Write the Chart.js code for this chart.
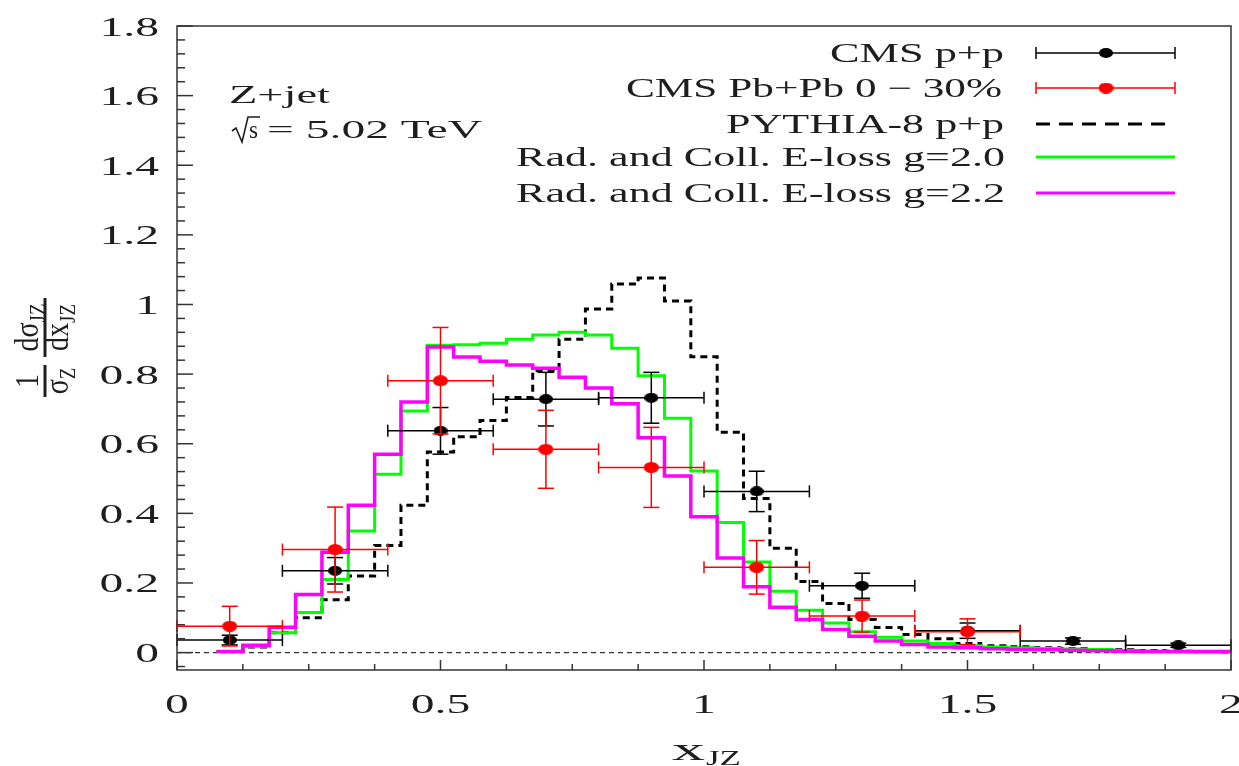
<!DOCTYPE html>
<html>
<head>
<meta charset="utf-8">
<script src="https://cdn.jsdelivr.net/npm/chart.js@4.4.1/dist/chart.umd.min.js"></script>
<style>
  html, body { margin: 0; padding: 0; background: #fff; }
  canvas { display: block; }
</style>
</head>
<body>
<canvas id="chart" width="1239" height="766"></canvas>
<script>
// bin edges shared by the three histograms (width 0.05)
const binEdges = [
  0.075, 0.125, 0.175, 0.225, 0.275, 0.325, 0.375, 0.425, 0.475, 0.525,
  0.575, 0.625, 0.675, 0.725, 0.775, 0.825, 0.875, 0.925, 0.975, 1.025,
  1.075, 1.125, 1.175, 1.225, 1.275, 1.325, 1.375, 1.425, 1.475, 1.525,
  1.575, 1.625, 1.675, 1.725, 1.775, 1.825, 1.875, 1.925, 1.975, 2.025
];

const pythiaPP = [
  0.003, 0.016, 0.057, 0.100, 0.152, 0.220, 0.308, 0.423, 0.576, 0.620,
  0.667, 0.733, 0.810, 0.900, 0.987, 1.059, 1.076, 1.010, 0.850, 0.633,
  0.443, 0.300, 0.204, 0.141, 0.095, 0.072, 0.052, 0.040, 0.026, 0.020,
  0.017, 0.014, 0.012, 0.009, 0.008, 0.006, 0.004, 0.003, 0.002
];

const eloss20 = [
  0.003, 0.018, 0.057, 0.115, 0.210, 0.349, 0.512, 0.694, 0.883, 0.884,
  0.889, 0.900, 0.912, 0.920, 0.912, 0.874, 0.795, 0.673, 0.522, 0.374,
  0.260, 0.176, 0.122, 0.085, 0.060, 0.044, 0.033, 0.026, 0.020, 0.016,
  0.014, 0.012, 0.010, 0.009, 0.006, 0.004, 0.003, 0.002, 0.002
];

const eloss22 = [
  0.003, 0.021, 0.073, 0.167, 0.288, 0.423, 0.570, 0.720, 0.878, 0.849,
  0.837, 0.826, 0.817, 0.791, 0.760, 0.715, 0.617, 0.507, 0.390, 0.272,
  0.189, 0.130, 0.095, 0.066, 0.047, 0.033, 0.023, 0.016, 0.014, 0.011,
  0.009, 0.008, 0.007, 0.005, 0.004, 0.003, 0.003, 0.003, 0.003
];

// CMS data points
const ppX    = [0.1, 0.3, 0.5, 0.7, 0.9, 1.1, 1.3, 1.5, 1.7, 1.9];
const ppY    = [0.036, 0.235, 0.637, 0.728, 0.732, 0.463, 0.192, 0.063, 0.033, 0.021];
const ppErr  = [0.014, 0.038, 0.067, 0.077, 0.073, 0.058, 0.036, 0.022, 0.009, 0.006];
const ppXErr = [0.1, 0.1, 0.1, 0.1, 0.1, 0.1, 0.1, 0.1, 0.1, 0.1];

const pbX    = [0.1, 0.3, 0.5, 0.7, 0.9, 1.1, 1.3, 1.5];
const pbY    = [0.076, 0.296, 0.781, 0.584, 0.532, 0.245, 0.105, 0.060];
const pbErr  = [0.057, 0.122, 0.153, 0.112, 0.115, 0.077, 0.046, 0.037];
const pbXErr = [0.1, 0.1, 0.1, 0.1, 0.1, 0.1, 0.1, 0.1];

const xTickVals   = [0, 0.5, 1, 1.5, 2];
const xTickLabels = ['0', '0.5', '1', '1.5', '2'];
const yTickVals   = [0, 0.2, 0.4, 0.6, 0.8, 1, 1.2, 1.4, 1.6, 1.8];
const yTickLabels = ['0', '0.2', '0.4', '0.6', '0.8', '1', '1.2', '1.4', '1.6', '1.8'];

const legendLabels = [
  'CMS p+p',
  'CMS Pb+Pb 0 \u2212 30%',
  'PYTHIA-8 p+p',
  'Rad. and Coll. E-loss g=2.0',
  'Rad. and Coll. E-loss g=2.2'
];

const ink = '#1e1e1e';
const frameColor = '#333333';
const serif = '"Liberation Serif", "Times New Roman", serif';

// the figure is stretched sideways, so markers are ellipses
function makeDot(color, w, h) {
  const c = document.createElement('canvas');
  c.width = w; c.height = h;
  const g = c.getContext('2d');
  g.fillStyle = color;
  g.beginPath();
  g.ellipse(w / 2, h / 2, w / 2, h / 2, 0, 0, Math.PI * 2);
  g.fill();
  return c;
}
const blackDot = makeDot('#000000', 14, 10);
const redDot = makeDot('#ff0000', 15, 11);

function histPoints(vals) {
  const pts = [];
  vals.forEach((v, i) => {
    pts.push({ x: binEdges[i], y: v }, { x: binEdges[i + 1], y: v });
  });
  return pts;
}

function line(ctx, x1, y1, x2, y2) {
  ctx.beginPath();
  ctx.moveTo(x1, y1);
  ctx.lineTo(x2, y2);
  ctx.stroke();
}

// text with horizontal stretch
function txt(ctx, s, x, y, size, align, sx) {
  ctx.save();
  ctx.font = size + 'px ' + serif;
  ctx.textAlign = align;
  ctx.textBaseline = 'alphabetic';
  ctx.fillStyle = ink;
  ctx.translate(x, y);
  ctx.scale(sx, 1);
  ctx.fillText(s, 0, 0);
  ctx.restore();
}

// text squeezed/stretched to fit between left and right
function fitTxt(ctx, s, left, right, y, size) {
  ctx.save();
  ctx.font = size + 'px ' + serif;
  const w = ctx.measureText(s).width;
  ctx.restore();
  txt(ctx, s, left, y, size, 'left', (right - left) / w);
}

function drawErrors(chart, ds) {
  const ctx = chart.ctx;
  const xs = chart.scales.x, ys = chart.scales.y;
  ctx.save();
  ctx.strokeStyle = ds.errColor;
  ctx.lineWidth = 1.5;
  ds.data.forEach((p, i) => {
    const px = xs.getPixelForValue(p.x);
    const py = ys.getPixelForValue(p.y);
    const xl = xs.getPixelForValue(p.x - ds.errX[i]);
    const xr = xs.getPixelForValue(p.x + ds.errX[i]);
    const yt = ys.getPixelForValue(p.y + ds.errY[i]);
    const yb = ys.getPixelForValue(p.y - ds.errY[i]);
    line(ctx, xl, py, xr, py);
    line(ctx, xl, py - 6, xl, py + 6);
    line(ctx, xr, py - 6, xr, py + 6);
    line(ctx, px, yt, px, yb);
    line(ctx, px - 8, yt, px + 8, yt);
    line(ctx, px - 8, yb, px + 8, yb);
  });
  ctx.restore();
}

function drawComposite(ctx, parts, cx, base) {
  let total = 0;
  parts.forEach(p => { ctx.font = p[1] + 'px ' + serif; p.w = ctx.measureText(p[0]).width; total += p.w; });
  let x = cx - total / 2;
  parts.forEach(p => {
    ctx.font = p[1] + 'px ' + serif;
    ctx.fillText(p[0], x, base + p[2]);
    x += p.w;
  });
  return total;
}

function drawYTitle(ctx) {
  ctx.save();
  ctx.translate(45, 348);
  ctx.scale(1.2, 1);
  ctx.rotate(-Math.PI / 2);
  ctx.fillStyle = ink;
  ctx.strokeStyle = ink;
  ctx.textAlign = 'left';
  ctx.textBaseline = 'alphabetic';
  // 1 / sigma_Z
  drawComposite(ctx, [['1', 28, 0]], -33, -6);
  drawComposite(ctx, [['\u03c3', 28, 0], ['Z', 19, 6]], -33, 19);
  ctx.lineWidth = 2.5;
  line(ctx, -49, 0, -17, 0);
  // d sigma_JZ / d x_JZ
  drawComposite(ctx, [['d\u03c3', 28, 0], ['JZ', 19, 6]], 20.5, -6);
  drawComposite(ctx, [['dx', 28, 0], ['JZ', 19, 6]], 20.5, 19);
  line(ctx, -9, 0, 50, 0);
  ctx.restore();
}

const overlay = {
  id: 'overlay',
  beforeDatasetDraw(chart, args) {
    const ds = chart.data.datasets[args.index];
    if (ds.errY) drawErrors(chart, ds);
  },
  afterDraw(chart) {
    const ctx = chart.ctx;
    const a = chart.chartArea;
    const xs = chart.scales.x, ys = chart.scales.y;

    // frame
    ctx.save();
    ctx.strokeStyle = frameColor;
    ctx.lineWidth = 1.5;
    ctx.strokeRect(a.left, a.top, a.right - a.left, a.bottom - a.top);

    // inward ticks on bottom and left axes
    for (let k = 0; k <= 16; k++) {
      const px = xs.getPixelForValue(k * 0.125);
      line(ctx, px, a.bottom, px, a.bottom - (k % 4 === 0 ? 10 : 6));
    }
    for (let k = -1; k <= 45; k++) {
      const py = ys.getPixelForValue(k * 0.04);
      line(ctx, a.left, py, a.left + (k % 5 === 0 ? 16 : 8), py);
    }
    ctx.restore();

    // tick labels
    yTickVals.forEach((v, i) => txt(ctx, yTickLabels[i], 159, ys.getPixelForValue(v) + 9.5, 28, 'right', 1.7));
    xTickVals.forEach((v, i) => txt(ctx, xTickLabels[i], xs.getPixelForValue(v), 713, 28, 'center', 1.7));

    // axis titles
    fitTxt(ctx, 'x', 672, 705, 760, 32);
    fitTxt(ctx, 'JZ', 706, 741, 765, 20);
    drawYTitle(ctx);

    // annotation
    fitTxt(ctx, 'Z+jet', 229, 330, 103, 25);
    ctx.save();
    ctx.strokeStyle = ink;
    ctx.lineWidth = 1.6;
    ctx.beginPath();
    ctx.moveTo(232, 131);
    ctx.lineTo(236, 128);
    ctx.lineTo(242, 142);
    ctx.lineTo(248, 117);
    ctx.lineTo(260, 117);
    ctx.stroke();
    ctx.restore();
    fitTxt(ctx, 's', 249, 258, 138, 25);
    fitTxt(ctx, '= 5.02 TeV', 267, 482, 138, 25);

    // legend
    const rows = [53, 88, 124, 157, 193];
    const lefts = [830, 626, 726, 516, 516];
    const rights = [1004, 1002, 1004, 1005, 1005];
    legendLabels.forEach((s, i) => fitTxt(ctx, s, lefts[i], rights[i], rows[i] + 9, 27));

    ctx.save();
    ctx.lineWidth = 1.5;
    [['#000000', blackDot], ['#ff0000', redDot]].forEach((m, i) => {
      const y = rows[i];
      ctx.strokeStyle = m[0];
      line(ctx, 1036, y, 1175, y);
      line(ctx, 1036, y - 6, 1036, y + 6);
      line(ctx, 1175, y - 6, 1175, y + 6);
      ctx.drawImage(m[1], 1106 - m[1].width / 2, y - m[1].height / 2);
    });
    ctx.strokeStyle = '#000000';
    ctx.lineWidth = 3;
    ctx.setLineDash([14, 9]);
    line(ctx, 1036, rows[2], 1172, rows[2]);
    ctx.setLineDash([]);
    ctx.strokeStyle = '#00ff00';
    line(ctx, 1036, rows[3], 1175, rows[3]);
    ctx.strokeStyle = '#ff00ff';
    line(ctx, 1036, rows[4], 1175, rows[4]);
    ctx.restore();
  }
};

new Chart(document.getElementById('chart'), {
  type: 'scatter',
  data: {
    datasets: [
      {
        label: legendLabels[1],
        data: pbX.map((x, i) => ({ x: x, y: pbY[i] })),
        pointStyle: redDot, pointRadius: 7, showLine: false,
        errY: pbErr, errX: pbXErr, errColor: '#ff0000'
      },
      {
        label: legendLabels[0],
        data: ppX.map((x, i) => ({ x: x, y: ppY[i] })),
        pointStyle: blackDot, pointRadius: 7, showLine: false,
        errY: ppErr, errX: ppXErr, errColor: '#000000'
      },
      {
        label: legendLabels[4],
        data: histPoints(eloss22),
        showLine: true, borderColor: '#ff00ff', borderWidth: 3.5,
        pointRadius: 0, tension: 0, borderJoinStyle: 'miter'
      },
      {
        label: legendLabels[3],
        data: histPoints(eloss20),
        showLine: true, borderColor: '#00ff00', borderWidth: 3,
        pointRadius: 0, tension: 0, borderJoinStyle: 'miter'
      },
      {
        label: legendLabels[2],
        data: histPoints(pythiaPP),
        showLine: true, borderColor: '#000000', borderWidth: 3,
        borderDash: [7, 5], pointRadius: 0, tension: 0, borderJoinStyle: 'miter'
      },
      {
        label: 'zero',
        data: [{ x: 0, y: 0 }, { x: 2, y: 0 }],
        showLine: true, borderColor: '#333333', borderWidth: 1.2,
        borderDash: [5, 4], pointRadius: 0
      }
    ]
  },
  options: {
    responsive: false,
    animation: false,
    devicePixelRatio: 1,
    events: [],
    layout: { padding: { left: 177, right: 2, top: 26, bottom: 96 } },
    plugins: { legend: { display: false }, tooltip: { enabled: false } },
    scales: {
      x: { type: 'linear', min: 0, max: 2, display: false },
      y: { type: 'linear', min: -0.05, max: 1.8, display: false }
    }
  },
  plugins: [overlay]
});
</script>
</body>
</html>
